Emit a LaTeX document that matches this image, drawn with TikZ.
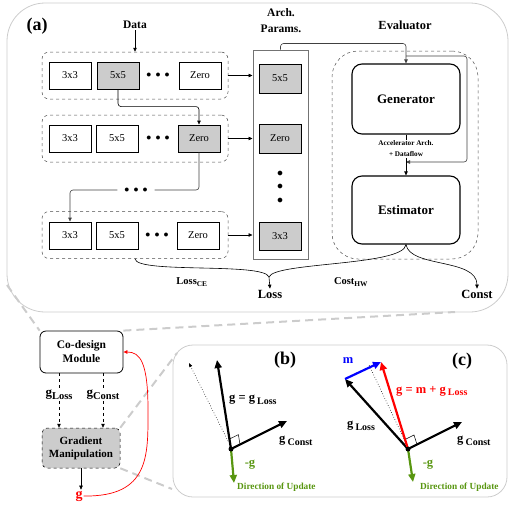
\documentclass[tikz,border=0pt]{standalone}
\usepackage{fontspec}
\setmainfont{Liberation Serif}
\usetikzlibrary{arrows.meta,calc}
\definecolor{boxgray}{gray}{0.8}
\definecolor{panelgray}{gray}{0.8}
\definecolor{zoomgray}{gray}{0.8}
\definecolor{updgreen}{RGB}{88,150,16}
\newcommand{\gsub}[1]{g\,\raisebox{-2.5pt}{\fontsize{10}{10}\selectfont #1}}
\newcommand{\gsubt}[1]{g\raisebox{-2.5pt}{\fontsize{10.5}{10.5}\selectfont #1}}
\begin{document}
\begin{tikzpicture}[x=1pt,y=-1pt,
 op/.style={draw,line width=0.9pt,minimum width=42pt,minimum height=27pt,inner sep=0pt,font=\fontsize{10.5}{11}\selectfont},
 opg/.style={op,fill=boxgray},
 rowbox/.style={draw=black!70,dashed,line width=0.5pt,rounded corners=7pt,minimum width=186pt,minimum height=47pt,inner sep=0pt},
 bigbox/.style={draw,line width=1.1pt,rounded corners=10pt,minimum width=108pt,inner sep=0pt,font=\bfseries\fontsize{13}{15}\selectfont},
 lbl/.style={font=\bfseries\fontsize{11.5}{13}\selectfont,inner sep=1pt},
 vlbl/.style={font=\bfseries\fontsize{12.5}{14}\selectfont,inner sep=0pt},
 arr/.style={-{Triangle[length=4pt,width=3.5pt]},line width=0.6pt},
 zoomline/.style={draw=zoomgray,dash pattern=on 8pt off 5pt,line width=2pt},
 panel/.style={draw=panelgray,line width=0.8pt},
 vec/.style={line width=2.2pt,-{Triangle[length=8pt,width=7pt]}},
 smalldot/.style={circle,fill,inner sep=0pt,minimum size=5pt},
 bigtag/.style={font=\bfseries\fontsize{18}{20}\selectfont},
 dotsnode/.style={inner sep=0pt,font=\fontsize{10}{10}\selectfont},
]
\useasboundingbox (0,0) rectangle (510,506);

% ---------- panel (a) ----------
\draw[panel, rounded corners=38pt] (7,3) rectangle (508,312);
\node[bigtag] (lbla) at (37,26) {(a)};
\node[lbl] (data) at (135,25) {Data};
\node[lbl,align=center,font=\bfseries\fontsize{11.5}{16}\selectfont] (arch) at (281,21) {Arch.\\Params.};
\node[lbl,font=\bfseries\fontsize{12.4}{14}\selectfont] (evl) at (405,25) {Evaluator};

\node[rowbox] (row1) at (135,75.5) {};
\node[rowbox] (row2) at (135,138.5) {};
\node[rowbox] (row3) at (135,235) {};

\node[op]  (r1a) at (70,75.5) {3x3};
\node[opg] (r1b) at (118,75.5) {5x5};
\node[dotsnode] (r1d) at (158,75.5) {$\bullet\hspace{2pt}\bullet\hspace{2pt}\bullet$};
\node[op]  (r1z) at (200,75.5) {Zero};

\node[op]  (r2a) at (70,138.5) {3x3};
\node[op]  (r2b) at (117,138.5) {5x5};
\node[dotsnode] (r2d) at (158,138.5) {$\bullet\hspace{2pt}\bullet\hspace{2pt}\bullet$};
\node[opg] (r2z) at (199,138.5) {Zero};

\node[op]  (r3a) at (70,235.5) {3x3};
\node[op]  (r3b) at (117,235.5) {5x5};
\node[dotsnode] (r3d) at (157,235.5) {$\bullet\hspace{2pt}\bullet\hspace{2pt}\bullet$};
\node[op]  (r3z) at (198,235.5) {Zero};

\node[dotsnode, minimum width=37pt] (midd) at (136,190) {$\bullet\hspace{2pt}\bullet\hspace{2pt}\bullet$};

\node[draw=black!55, line width=1pt, minimum width=55pt, minimum height=209pt, inner sep=0pt] (ap) at (280.5,154.5) {};
\node[opg, minimum height=29pt] (ap1) at (280,78.5) {5x5};
\node[opg, minimum height=29pt] (ap2) at (280,138.5) {Zero};
\node[opg, minimum height=28pt] (ap3) at (280,236) {3x3};
\node[align=center, inner sep=0pt, font=\fontsize{13}{13.5}\selectfont] (apd) at (280,187) {$\bullet$\\$\bullet$\\$\bullet$};

\node[rowbox, rounded corners=26pt, minimum width=146pt, minimum height=208pt] (ev) at (405,155) {};
\node[bigbox, minimum height=70pt] (gen) at (406,99) {Generator};
\node[bigbox, minimum height=68pt] (est) at (406,210) {Estimator};
\node[font=\bfseries\fontsize{7.2}{11}\selectfont, align=center, inner sep=1pt] (acc) at (406,149) {Accelerator Arch.\\+ Dataflow};

\draw[arr] (data) -- (row1.north -| data);
\draw[arr] (row1.east) -- (row1.east -| ap.west);
\draw[arr] (row2.east) -- (row2.east -| ap.west);
\draw[arr] (row3.east) -- (row3.east -| ap.west);
\draw[arr, rounded corners=3pt] (r1b.south) |- ($(r2z.north)+(0,-18)$) -- (r2z.north);
\draw[line width=0.6pt, black!75, rounded corners=3pt] (r2z.south) |- (midd.east);
\draw[arr, black!75, rounded corners=3pt] (midd.west) -| (r3a.north);
\draw[arr, black!75, rounded corners=3pt] (ap.north) -- ++(0,-6) -| (gen.north);
\coordinate (fbs) at (406,56);
\coordinate (fbe) at (406,162);
\draw[arr, black!75, rounded corners=3pt] (fbs) -- (467,56) -- (467,162) -- (fbe);
\draw[line width=0.6pt] (gen.south) -- (acc.north);
\draw[arr] (acc.south) -- (est.north);

\coordinate (lt) at (269,277);
\draw[line width=0.6pt] (row3.south) .. controls (136,274) and (264,262) .. (lt);
\draw[line width=0.6pt] (est.south) .. controls (404,266) and (274,262) .. (lt);
\node[lbl, font=\bfseries\fontsize{12.5}{13}\selectfont] (loss) at (270,294) {Loss};
\draw[arr] (lt) -- (loss.north);
\node[lbl, font=\bfseries\fontsize{12.5}{13}\selectfont] (const) at (477,294) {Const};
\draw[arr] (est.south) .. controls (410,268) and (477,258) .. (const.north);
\node[lbl, font=\bfseries\fontsize{10.5}{12}\selectfont] (lce) at (192,282) {Loss\textsubscript{CE}};
\node[lbl, font=\bfseries\fontsize{10.5}{12}\selectfont] (chw) at (351,282) {Cost\textsubscript{HW}};

% ---------- lower left ----------
\node[draw, line width=0.8pt, rounded corners=6pt, minimum width=83pt, minimum height=42pt, align=center, inner sep=1pt, font=\bfseries\fontsize{11.5}{14}\selectfont] (cm) at (81.5,352) {Co-design\\Module};
\node[draw, dashed, line width=0.5pt, fill=boxgray, rounded corners=5pt, minimum width=78pt, minimum height=40pt, align=center, inner sep=1pt, font=\bfseries\fontsize{11}{13}\selectfont] (gm) at (81,448) {Gradient\\Manipulation};

\draw[zoomline] (7,285) -- (cm.north west);
\draw[zoomline] (cm.north east) -- (455,312);
\draw[zoomline] (gm.north east) -- (177,353);
\draw[zoomline] (gm.south east) -- (172,489);

\node[lbl, font=\bfseries\fontsize{13}{13}\selectfont] (gl) at (59,395) {\gsubt{Loss}};
\node[lbl, font=\bfseries\fontsize{13}{13}\selectfont] (gc) at (103,395) {\gsubt{Const}};
\draw[dashed, line width=0.5pt] (cm.south -| gl) -- (gl.north);
\draw[dashed, arr] (gl.south) -- (gm.north -| gl);
\draw[dashed, line width=0.5pt] (cm.south -| gc) -- (gc.north);
\draw[dashed, arr] (gc.south) -- (gm.north -| gc);

\node[font=\bfseries\fontsize{14}{14}\selectfont, text=red, inner sep=1pt] (gg) at (79,496) {g};
\draw[arr] (gm.south) -- (gm.south |- gg.north);
\draw[arr, red, line width=0.7pt] (gg.east) .. controls (150,497) and (148,455) .. (148,410) .. controls (148,362) and (140,352) .. (cm.east);

% ---------- panels (b),(c) ----------
\draw[panel, rounded corners=20pt] (173,345) rectangle (507,497);

% (b)
\node[bigtag] (lblb) at (285,360) {(b)};
\coordinate (ob) at (231,449);
\coordinate (bg) at (217,360);
\coordinate (bc) at (287,421);
\coordinate (bn) at (234,483);
\coordinate (bds) at (228,441);
\coordinate (bde) at (189,363);
\draw[dotted, line width=0.6pt, -{Triangle[length=4pt,width=3pt]}] (bds) -- (bde);
\draw[line width=0.5pt] (229.5,439) -- (238.4,434.6) -- (240,444.5);
\draw[vec] (ob) -- (bg);
\draw[vec] (ob) -- (bc);
\draw[vec, updgreen] (ob) -- (bn);
\node[smalldot] (obd) at (ob) {};
\node[vlbl, anchor=west] (bgl) at (229,400) {g = \gsub{Loss}};
\node[vlbl, anchor=west] (bgc) at (279,441) {\gsub{Const}};
\node[vlbl, text=updgreen] (bng) at (250,465) {-g};
\node[anchor=west, inner sep=0pt, text=updgreen, font=\bfseries\fontsize{9.3}{10}\selectfont] (bdir) at (237,487) {Direction of Update};

% (c)
\node[bigtag] (lblc) at (462,361) {(c)};
\coordinate (oc) at (408,449);
\coordinate (cl) at (345,379);
\coordinate (cm2) at (381,362);
\coordinate (cc) at (462,422);
\coordinate (cn) at (413,482);
\coordinate (cds) at (405,441);
\coordinate (cde) at (369,365);
\draw[dotted, line width=0.6pt] (cds) -- (cde);
\draw[line width=0.5pt] (405,439.5) -- (414,435) -- (417,444.5);
\draw[vec] (oc) -- (cl);
\draw[vec, blue] (cl) -- (cm2);
\draw[vec, red] (oc) -- (cm2);
\draw[vec] (oc) -- (cc);
\draw[vec, updgreen] (oc) -- (cn);
\node[smalldot] (ocd) at (oc) {};
\node[vlbl, text=blue] (cml) at (348,361) {m};
\node[vlbl, anchor=west, text=red] (cgl) at (396,391) {g = m + \gsub{Loss}};
\node[vlbl, anchor=west] (cgloss) at (347,426) {\gsub{Loss}};
\node[vlbl, anchor=west] (cgc) at (457,441) {\gsub{Const}};
\node[vlbl, text=updgreen] (cng) at (428,465) {-g};
\node[anchor=west, inner sep=0pt, text=updgreen, font=\bfseries\fontsize{9.3}{10}\selectfont] (cdir) at (420,487) {Direction of Update};
\end{tikzpicture}
\end{document}
